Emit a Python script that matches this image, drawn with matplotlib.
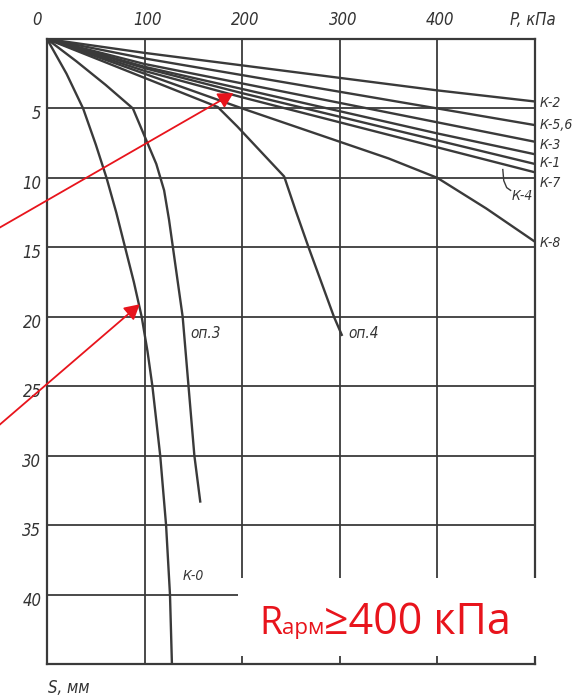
import matplotlib
matplotlib.use('Agg')
import matplotlib.pyplot as plt
import matplotlib.transforms as mtransforms
from matplotlib.patches import Rectangle

# ---------------- data ----------------
x_ticks = [0, 100, 200, 300, 400, 500]
x_tick_labels = ['0', '100', '200', '300', '400', 'P, кПа']
y_ticks = [5, 10, 15, 20, 25, 30, 35, 40]
y_tick_labels = ['5', '10', '15', '20', '25', '30', '35', '40']

# straight-ish bundle lines, S (mm) at P (kPa)
p_bundle = [0, 100, 200, 300, 400, 500]
s_k2 = [0, 1.0, 1.9, 2.8, 3.7, 4.5]
s_k56 = [0, 1.4, 2.6, 3.8, 5.0, 6.2]
s_k3 = [0, 1.8, 3.2, 4.6, 6.0, 7.4]
s_k1 = [0, 2.0, 3.6, 5.2, 6.8, 8.3]
s_k7 = [0, 2.1, 3.9, 5.6, 7.3, 9.0]
s_k4 = [0, 2.3, 4.2, 6.0, 7.8, 9.6]
p_k8 = [0, 100, 200, 300, 350, 400, 450, 500]
s_k8 = [0, 2.5, 5.0, 7.4, 8.6, 10.0, 12.2, 14.6]

p_op4 = [0, 50, 100, 150, 175, 195, 215, 243, 255, 268, 281, 294, 302]
s_op4 = [0, 1.4, 2.8, 4.2, 4.9, 6.3, 7.8, 9.9, 12.4, 15.0, 17.5, 20.0, 21.3]

p_op3 = [0, 30, 60, 88, 100, 112, 120, 125, 129, 134, 139, 145, 151, 157]
s_op3 = [0, 1.6, 3.3, 5.0, 7.0, 9.0, 10.9, 13.0, 15.0, 17.5, 20.0, 25.0, 30.0, 33.3]

p_k0 = [0, 20, 37, 50, 61, 71, 80, 89, 97, 103, 108, 116, 122, 126, 128]
s_k0 = [0, 2.5, 5.0, 7.6, 10.0, 12.5, 15.0, 17.5, 20.0, 22.5, 25.0, 30.0, 35.0, 40.0, 45.0]

series = [
    (p_bundle, s_k2), (p_bundle, s_k56), (p_bundle, s_k3), (p_bundle, s_k1),
    (p_bundle, s_k7), (p_bundle, s_k4), (p_k8, s_k8),
    (p_op4, s_op4), (p_op3, s_op3), (p_k0, s_k0),
]

right_labels = ['К-2', 'К-5,6', 'К-3', 'К-1', 'К-7', 'К-8']
right_label_s = [4.6, 6.2, 7.6, 8.9, 10.4, 14.7]

# ---------------- figure ----------------
W, H = 577, 698
fig = plt.figure(figsize=(W / 100, H / 100), dpi=100)
fig.patch.set_facecolor('white')
ax = fig.add_axes([47 / W, 1 - 664 / H, (535 - 47) / W, (664 - 39) / H])

dark = '#3a3a3a'
fkw = dict(family='DejaVu Sans', stretch='condensed', style='italic', color='#333333')

ax.set_xlim(0, 500)
ax.set_ylim(45, 0)

ax.set_xticks(x_ticks)
ax.set_xticklabels(x_tick_labels, fontsize=12, **fkw)
ax.xaxis.tick_top()
ax.set_yticks(y_ticks)
ax.set_yticklabels(y_tick_labels, fontsize=12, **fkw)
ax.tick_params(axis='x', length=0, pad=7)
ax.tick_params(axis='y', length=0, pad=4)

ax.grid(True, color=dark, linewidth=1.3)
ax.set_axisbelow(True)
for sp in ax.spines.values():
    sp.set_color(dark)
    sp.set_linewidth(1.6)

# shift tick labels like the scan
for i, lbl in enumerate(ax.get_xticklabels()):
    dx = -10 if i == 0 else (-2 if i == 5 else 3)
    lbl.set_transform(lbl.get_transform() + mtransforms.ScaledTranslation(dx / 100, 0, fig.dpi_scale_trans))
for lbl in ax.get_yticklabels():
    lbl.set_transform(lbl.get_transform() + mtransforms.ScaledTranslation(0, -4 / 100, fig.dpi_scale_trans))

for p, s in series:
    ax.plot(p, s, color=dark, linewidth=1.7, solid_joinstyle='round', zorder=3)

# right-hand curve labels
for lab, s in zip(right_labels, right_label_s):
    ax.text(505, s, lab, fontsize=10, ha='left', va='center', clip_on=False, **fkw)

# K-4 leader and label
ax.plot([467, 468, 471, 475], [9.4, 10.2, 10.7, 10.9], color=dark, linewidth=1.0, zorder=3)
ax.text(476, 11.3, 'К-4', fontsize=10, ha='left', va='center', **fkw)

ax.text(147, 21.2, 'оп.3', fontsize=11, ha='left', va='center', **fkw)
ax.text(309, 21.2, 'оп.4', fontsize=11, ha='left', va='center', **fkw)
ax.text(139, 38.7, 'К-0', fontsize=10, ha='left', va='center', **fkw)

fig.text(48 / W, 1 - 688 / H, 'S, мм', fontsize=12, ha='left', va='center', **fkw)

# red arrows
red = '#e8141c'
for tip, start in [((191, 3.9), (-49, 13.6)), ((95, 19.1), (-49, 27.8))]:
    ax.annotate('', xy=tip, xytext=start, annotation_clip=False,
                arrowprops=dict(arrowstyle='-|>,head_length=0.9,head_width=0.5', color=red,
                                lw=1.3, shrinkA=0, shrinkB=0), zorder=6)

# white box with red text
box = Rectangle((238 / W, 1 - 656 / H), (W - 238) / W, (656 - 578) / H,
                transform=fig.transFigure, facecolor='white', edgecolor='none', zorder=5)
fig.patches.append(box)

fig.canvas.draw()
renderer = fig.canvas.get_renderer()
base_y = 1 - 634 / H
x0 = 259 / W
tfam = ['Open Sans', 'DejaVu Sans']
t1 = fig.text(x0, base_y, 'R', family=tfam, fontsize=27, color=red,
              ha='left', va='baseline', zorder=6)
bb = t1.get_window_extent(renderer)
t2 = fig.text(bb.x1 / W, base_y, 'арм', family=tfam, fontsize=16,
              color=red, ha='left', va='baseline', zorder=6)
bb2 = t2.get_window_extent(renderer)
t3 = fig.text(bb2.x1 / W, base_y, '≥400 кПа', family=tfam, fontsize=31,
              color=red, ha='left', va='baseline', zorder=6)

fig.savefig('out.png', dpi=100, facecolor='white')
